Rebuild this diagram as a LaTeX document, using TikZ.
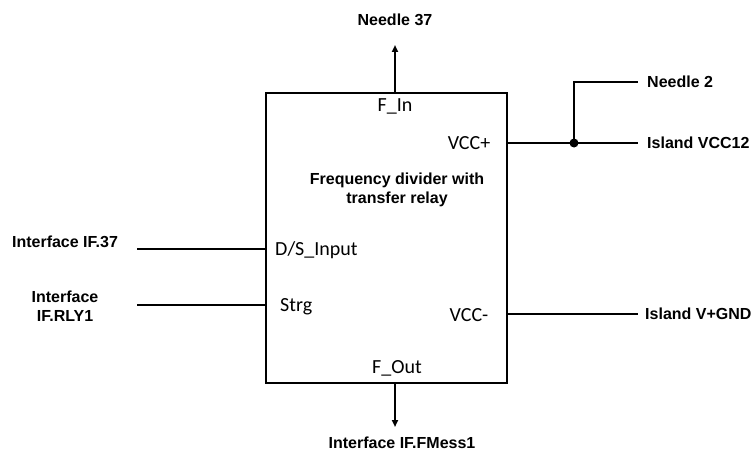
\documentclass[tikz,border=0pt]{standalone}
\usepackage{fontspec}
\setmainfont{Liberation Sans}
\newfontfamily\portfont{Carlito}
\usetikzlibrary{arrows.meta,positioning}

\begin{document}
\begin{tikzpicture}[
      x=1pt,y=-1pt,
      block/.style={draw,line width=2pt,minimum width=241pt,minimum height=290pt,inner sep=0pt},
      tag/.style={font=\fontsize{16}{19}\selectfont\bfseries,align=center,inner sep=0pt},
      port/.style={font=\portfont\fontsize{20}{24}\selectfont,inner sep=0pt},
      wire/.style={line width=2pt},
      arrow/.style={-{Triangle[length=7pt,width=6pt]},line width=1.8pt}
    ]
      \useasboundingbox (0,0) rectangle (752,452);
      \node[block] (divider) at (386.5,238) {};
      \node[tag] (title) at (397,190) {Frequency divider with\\transfer relay};
      % ports inside the block
      \node[port] (fin) at (395,106) {F\_In};
      \node[port,anchor=west] (dsin) at (275,250) {D/S\_Input};
      \node[port,anchor=west] (strg) at (280,307) {Strg};
      \node[port] (vccp) at (469,143) {VCC+};
      \node[port] (vccm) at (469,315) {VCC-};
      \node[port] (fout) at (397,368) {F\_Out};
      % outer labels
      \node[tag] (needle37) at (395,20) {Needle 37};
      \node[tag,anchor=west] (needle2) at (647,82) {Needle 2};
      \node[tag,anchor=west] (vcc12) at (647,143) {Island VCC12};
      \node[tag,anchor=west] (gnd) at (645,314) {Island V+GND};
      \node[tag] (if37) at (65,242) {Interface IF.37};
      \node[tag] (ifrly) at (65,306) {Interface\\IF.RLY1};
      \node[tag] (fmess) at (402,443) {Interface IF.FMess1};
      \coordinate (in37) at (137,249);
      \coordinate (inrly) at (137,305);
      \coordinate (top) at (395,45);
      \coordinate (bot) at (395,427);
      \coordinate (jn) at (574,143);
      \draw[wire] (in37) -- (in37 -| divider.west);
      \draw[wire] (inrly) -- (inrly -| divider.west);
      \draw[arrow] (top |- divider.north) -- (top);
      \draw[arrow] (bot |- divider.south) -- (bot);
      \draw[wire,shorten >=9pt] (divider.east |- vcc12.west) -- (vcc12.west);
      \draw[wire,shorten >=7pt] (divider.east |- gnd.west) -- (gnd.west);
      \draw[wire,shorten >=9pt] (jn) |- (needle2.west);
      \fill (jn) circle (4.5);
    \end{tikzpicture}
\end{document}
